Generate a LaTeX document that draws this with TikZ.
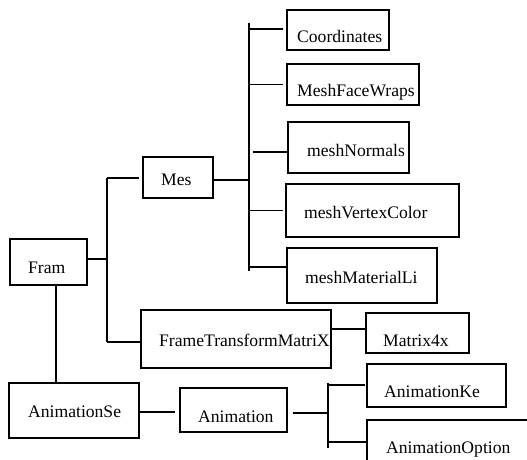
\documentclass[tikz,border=0pt]{standalone}
\usepackage{fontspec}
\setmainfont{Liberation Serif}
\begin{document}
\begin{tikzpicture}[x=1pt,y=-1pt,
  bx/.style={draw,line width=1.5pt,inner sep=0pt},
  tx/.style={anchor=base west,inner sep=0pt,font=\fontsize{17.6}{21}\selectfont},
  ln/.style={line width=1.5pt}]
\useasboundingbox (0,0) rectangle (527,460);
\clip (0,0) rectangle (527,460);
% boxes
\node[bx,minimum width=102pt,minimum height=40pt] (coo) at (338,30) {};
\node[bx,minimum width=132pt,minimum height=41pt] (mfw) at (353,84.5) {};
\node[bx,minimum width=121pt,minimum height=51pt] (mnr) at (348.5,147.5) {};
\node[bx,minimum width=173pt,minimum height=53pt] (mvc) at (372.5,210.5) {};
\node[bx,minimum width=150pt,minimum height=55pt] (mml) at (362,275.5) {};
\node[bx,minimum width=70pt,minimum height=41pt] (mes) at (178,177.5) {};
\node[bx,minimum width=77pt,minimum height=46pt] (fram) at (48.5,262) {};
\node[bx,minimum width=190pt,minimum height=58pt] (ftm) at (236,339) {};
\node[bx,minimum width=103pt,minimum height=40pt] (m4x) at (417.5,333) {};
\node[bx,minimum width=130pt,minimum height=55pt] (ase) at (74,410.5) {};
\node[bx,minimum width=107pt,minimum height=44pt] (ani) at (233.5,410) {};
\node[bx,minimum width=139pt,minimum height=43pt] (ake) at (436.5,385.5) {};
\node[bx,minimum width=200pt,minimum height=80pt] (aop) at (467,460) {};
% texts
\node[tx] (cooT) at (297,43) {Coordinates};
\node[tx] (mfwT) at (297,96) {MeshFaceWraps};
\node[tx] (mnrT) at (307,156) {meshNormals};
\node[tx] (mvcT) at (304,218) {meshVertexColor};
\node[tx] (mmlT) at (305,283) {meshMaterialLi};
\node[tx] (mesT) at (161,185) {Mes};
\node[tx] (framT) at (28,273) {Fram};
\node[tx] (ftmT) at (159,346) {FrameTransformMatriX};
\node[tx] (m4xT) at (383,346) {Matrix4x};
\node[tx] (aseT) at (28,417) {AnimationSe};
\node[tx] (aniT) at (198,422) {Animation};
\node[tx] (akeT) at (384,397) {AnimationKe};
\node[tx] (aopT) at (386,453) {AnimationOption};
% bars
\coordinate (mtop) at (249,23);
\coordinate (mbot) at (249,271);
\coordinate (ltop) at (107,178);
\coordinate (lbot) at (107,342);
\coordinate (atop) at (328,383);
\coordinate (abot) at (328,448);
\draw[ln] (mtop) -- (mbot);
\draw[ln] (ltop) -- (lbot);
\draw[ln] (atop) -- (abot);
% Mes children
\draw[ln] (mes.east |- 0,180) -- (mtop |- 0,180);
\draw[ln,shorten >=3pt] (mtop |- 0,29) -- (coo.west |- 0,29);
\draw[ln,shorten >=3pt] (mtop |- mfw.west) -- (mfw.west);
\draw[ln,shorten <=4pt] (mtop |- 0,152) -- (mnr.west |- 0,152);
\draw[ln,shorten >=2pt] (mtop |- mvc.west) -- (mvc.west);
\draw[ln] (mtop |- 0,267) -- (mml.west |- 0,267);
% Fram children
\draw[ln] (fram.east |- 0,259) -- (ltop |- 0,259);
\draw[ln,shorten >=3pt] (ltop) -- (mes.west |- ltop);
\draw[ln] (lbot) -- (ftm.west |- lbot);
\draw[ln] (ftm.east |- 0,329) -- (m4x.west |- 0,329);
\draw[ln] (fram.south -| 56,0) -- (ase.north -| 56,0);
% Animation
\draw[ln,shorten >=4pt] (ase.east |- 0,412) -- (ani.west |- 0,412);
\draw[ln,shorten <=5pt] (ani.east |- 0,413) -- (atop |- 0,413);
\draw[ln,shorten >=1pt] (atop |- 0,385) -- (ake.west |- 0,385);
\draw[ln] (atop |- 0,442) -- (aop.west |- 0,442);
\end{tikzpicture}
\end{document}
